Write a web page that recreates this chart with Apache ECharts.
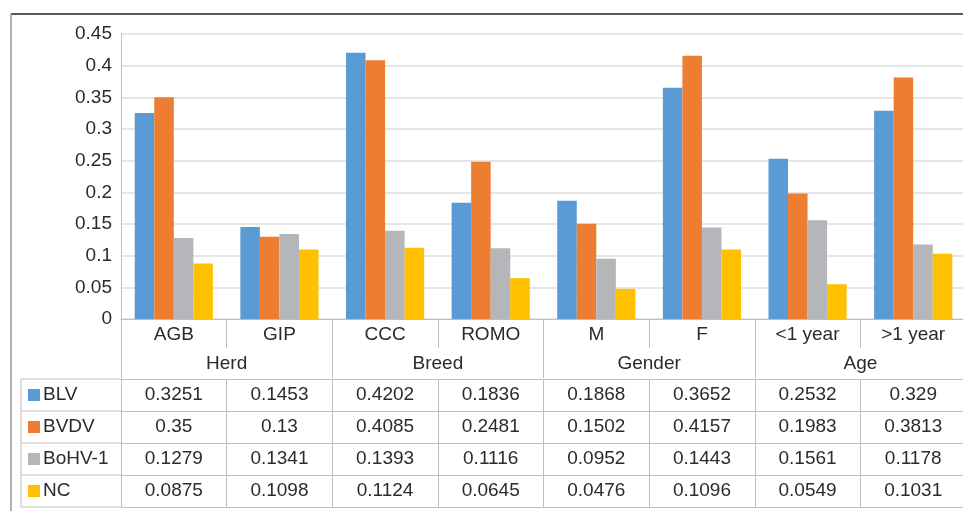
<!DOCTYPE html>
<html>
<head>
<meta charset="utf-8">
<script src="https://cdn.jsdelivr.net/npm/echarts@6/dist/echarts.min.js"></script>
<style>html,body{margin:0;padding:0;background:#fff}#c{width:963px;height:511px}</style>
</head>
<body>
<div id="c"></div>
<script>
const categories = ['AGB', 'GIP', 'CCC', 'ROMO', 'M', 'F', '<1 year', '>1 year'];
const groups = ['Herd', 'Breed', 'Gender', 'Age'];
const seriesNames = ['BLV', 'BVDV', 'BoHV-1', 'NC'];
const blv = [0.3251, 0.1453, 0.4202, 0.1836, 0.1868, 0.3652, 0.2532, 0.329];
const bvdv = [0.35, 0.13, 0.4085, 0.2481, 0.1502, 0.4157, 0.1983, 0.3813];
const bohv1 = [0.1279, 0.1341, 0.1393, 0.1116, 0.0952, 0.1443, 0.1561, 0.1178];
const nc = [0.0875, 0.1098, 0.1124, 0.0645, 0.0476, 0.1096, 0.0549, 0.1031];
const colors = ['#5B9BD5', '#ED7D31', '#B4B6B9', '#FFC000'];

const seriesData = [blv, bvdv, bohv1, nc];
const FONT = 'Liberation Sans, Arial, sans-serif';
const FS = 19;
const TXT = '#2b2b2b';
const LINE = '#bfbfbf';
const gridLeft = 121, gridTop = 34, gridBottom = 192, gridRight = -3;
const rowH = 32, firstRowOffset = 60;

const chart = echarts.init(document.getElementById('c'), null, {renderer: 'canvas'});
const W = 963, H = 511;
const axisBottomY = H - gridBottom;

const xAxes = [
  {
    type: 'category', data: categories, gridIndex: 0, position: 'bottom',
    axisLine: {show: true, lineStyle: {color: LINE, width: 1}},
    axisTick: {show: true, length: 29, interval: 0, lineStyle: {color: LINE}},
    axisLabel: {interval: 0, margin: 6, fontSize: FS, color: TXT, fontFamily: FONT}
  },
  {
    type: 'category', data: groups, gridIndex: 0, position: 'bottom', offset: 0,
    axisLine: {show: false},
    axisTick: {show: true, length: 59, interval: 0, lineStyle: {color: LINE}},
    axisLabel: {interval: 0, margin: 35, fontSize: FS, color: TXT, fontFamily: FONT}
  }
];
seriesData.forEach((vals, i) => {
  xAxes.push({
    type: 'category', data: categories, gridIndex: 0, position: 'bottom',
    offset: firstRowOffset + rowH * i,
    axisLine: {show: true, lineStyle: {color: LINE, width: 1}},
    axisTick: {show: true, length: rowH, interval: 0, lineStyle: {color: LINE}},
    axisLabel: {interval: 0, margin: 6, fontSize: FS, color: TXT, fontFamily: FONT,
      formatter: (v, idx) => String(vals[idx])}
  });
});
xAxes.push({
  type: 'category', data: categories, gridIndex: 0, position: 'bottom',
  offset: firstRowOffset + rowH * 4,
  axisLine: {show: true, lineStyle: {color: LINE, width: 1}},
  axisTick: {show: false}, axisLabel: {show: false}
});

const graphics = [
  {type: 'line', shape: {x1: 11, y1: 14, x2: W, y2: 14}, style: {stroke: '#222', lineWidth: 1.5}},
  {type: 'line', shape: {x1: 11, y1: 14, x2: 11, y2: H}, style: {stroke: '#999', lineWidth: 1.5}},
  {type: 'line', shape: {x1: 21, y1: axisBottomY + firstRowOffset, x2: 21, y2: axisBottomY + firstRowOffset + rowH * 4}, style: {stroke: LINE, lineWidth: 1}}
];
for (let i = 0; i <= 4; i++) {
  const y = axisBottomY + firstRowOffset + rowH * i;
  graphics.push({type: 'line', shape: {x1: 21, y1: y, x2: gridLeft, y2: y}, style: {stroke: LINE, lineWidth: 1}});
}
seriesNames.forEach((name, i) => {
  const cy = axisBottomY + firstRowOffset + rowH * i + rowH / 2;
  graphics.push({type: 'rect', shape: {x: 28, y: cy - 6, width: 12, height: 12}, style: {fill: colors[i]}});
  graphics.push({type: 'text', x: 43, y: cy, style: {text: name, fontSize: FS, fontFamily: FONT, fill: TXT, verticalAlign: 'middle', align: 'left'}});
});

chart.setOption({
  animation: false,
  backgroundColor: '#fff',
  grid: {left: gridLeft, top: gridTop, bottom: gridBottom, right: gridRight, outerBoundsMode: 'none', containLabel: false},
  xAxis: xAxes,
  yAxis: {
    type: 'value', min: 0, max: 0.45, interval: 0.05,
    axisLine: {show: true, lineStyle: {color: LINE}},
    axisTick: {show: false},
    splitLine: {show: true, lineStyle: {color: '#dedede', width: 1.5}},
    axisLabel: {margin: 9, fontSize: FS, color: TXT, fontFamily: FONT,
      formatter: v => String(Math.round(v * 100) / 100)}
  },
  series: seriesNames.map((name, i) => ({
    name, type: 'bar', data: seriesData[i], xAxisIndex: 0,
    barGap: '0%', barCategoryGap: '26%',
    itemStyle: {color: colors[i]}
  })),
  graphic: graphics
});
</script>
</body>
</html>
